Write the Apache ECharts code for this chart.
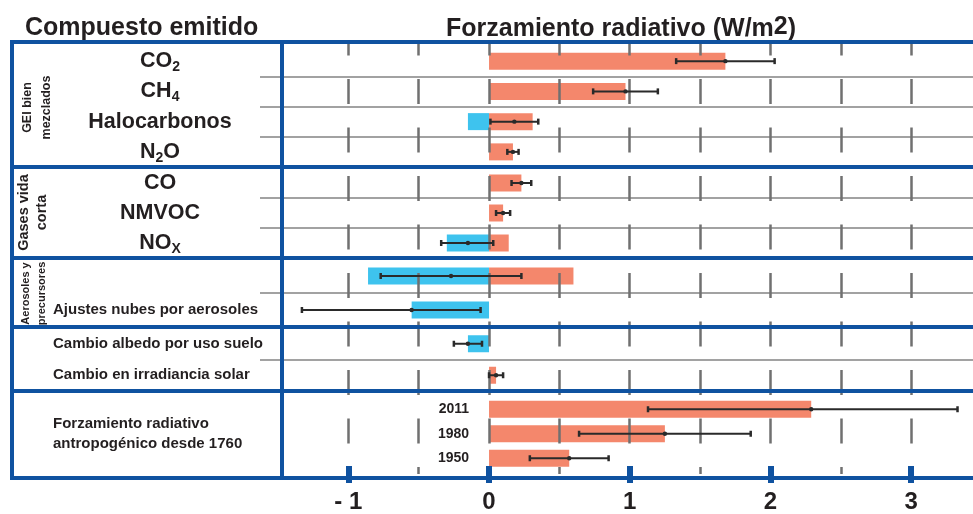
<!DOCTYPE html>
<html><head><meta charset="utf-8">
<script src="https://cdn.jsdelivr.net/npm/echarts@6/dist/echarts.min.js"></script>
<style>html,body{margin:0;padding:0;background:#fff}#c{width:973px;height:514px}</style>
</head><body><div id="c"></div>
<script>
// ---- data ----
const categories = ['CO2','CH4','Halocarbonos','N2O','CO','NMVOC','NOx','Aerosoles y precursores',
  'Ajustes nubes por aerosoles','Cambio albedo por uso suelo','Cambio en irradiancia solar','FR 2011','FR 1980','FR 1950'];
const rowLabels = ['CO_2','CH_4','Halocarbonos','N_2O','CO','NMVOC','NO_X','','Ajustes nubes por aerosoles',
  'Cambio albedo por uso suelo','Cambio en irradiancia solar','','Forzamiento radiativo\nantropogénico desde 1760',''];
const yearLabels = ['','','','','','','','','','','','2011','1980','1950'];
const groupSizes = [4,3,2,2,3];
const groupNames = ['GEI bien\nmezclados','Gases vida\ncorta','Aerosoles y\nprecursores','',''];
const positiveForcing = [1.68,0.97,0.31,0.17,0.23,0.10,0.14,0.60,0,0,0.05,2.29,1.25,0.57];
const negativeForcing = [0,0,-0.15,0,0,0,-0.30,-0.86,-0.55,-0.15,0,0,0,0];
const bestEstimate = [1.68,0.97,0.18,0.17,0.23,0.10,-0.15,-0.27,-0.55,-0.15,0.05,2.29,1.25,0.57];
const lowBound  = [1.33,0.74,0.01,0.13,0.16,0.05,-0.34,-0.77,-1.33,-0.25,0.00,1.13,0.64,0.29];
const highBound = [2.03,1.20,0.35,0.21,0.30,0.15,0.03,0.23,-0.06,-0.05,0.10,3.33,1.86,0.85];
const xTickLabels = [-1,0,1,2,3];

// ---- layout & style ----
const FRAME = '#0f52a0', ORANGE = '#f4876c', CYAN = '#3ec3ee', TXT = '#231f20', ROWLINE = '#a2a2a2';
const FONT = '"Liberation Sans", Arial, sans-serif';
const frameY = [42, 167, 258, 327, 391, 478];          // group separators (px)
const groupTop = [46, 168, 259, 328, 397];             // row band area per group (px)
const groupHeight = [121, 90, 68, 63, 73.5];
const groupLabelCenter = [true, true, false, false, false];
const groupRowLines = [true, true, true, true, false];
const plotLeft = 278, plotRight = 973, bandLeft = 260, panelLeft = 12, panelRight = 282;
const xMin = -1.5, xMax = 3.44;
const unit = (plotRight - plotLeft) / (xMax - xMin);
const bandXMin = xMin - (plotLeft - bandLeft) / unit;

const groupStarts = [];
let acc = 0;
groupSizes.forEach(s => { groupStarts.push(acc); acc += s; });

function subRich(t) {
  if (!t) return '';
  return t.split(/(_\w)/).filter(p => p).map(p => p[0] === '_' ? '{s|' + p.slice(1) + '}' : '{b|' + p + '}').join('');
}
const slice = (arr, g) => arr.slice(groupStarts[g], groupStarts[g] + groupSizes[g]);

const grids = [{ left: plotLeft, width: plotRight - plotLeft, top: frameY[0], height: frameY[5] - frameY[0] }];
const xAxes = [
  { gridIndex: 0, type: 'value', position: 'bottom', min: xMin, max: xMax, interval: 0.5, z: 3,
    axisLine: { show: false },
    axisTick: { show: false }, axisLabel: { show: false },
    splitLine: { show: true, showMinLine: false, showMaxLine: false,
      lineStyle: { color: '#707070', width: 2.5, type: [25, 23.5], dashOffset: 11.5 } } },
  { gridIndex: 0, type: 'value', position: 'bottom', min: xMin, max: xMax, interval: 0.5, offset: -8, z: 60,
    axisLine: { show: false },
    axisTick: { show: true, customValues: xTickLabels, length: 17, lineStyle: { color: FRAME, width: 6 } },
    axisLabel: { customValues: xTickLabels, margin: 24, fontSize: 24, fontWeight: 'bold', color: TXT, fontFamily: FONT,
      formatter: v => v < 0 ? '- ' + Math.abs(v) : String(v) },
    splitLine: { show: false } }
];
const yAxes = [{ gridIndex: 0, type: 'value', show: false }];
const series = [];

groupSizes.forEach((size, g) => {
  const gi = g + 1, xi = g + 2, yi = g + 1;
  grids.push({ left: bandLeft, width: plotRight - bandLeft, top: groupTop[g], height: groupHeight[g] });
  xAxes.push({ gridIndex: gi, type: 'value', min: bandXMin, max: xMax, show: false });
  const labels = slice(rowLabels, g);
  const centered = groupLabelCenter[g];
  yAxes.push({ gridIndex: gi, type: 'category', data: slice(categories, g), inverse: true, position: 'left',
    axisLine: { show: false }, axisTick: { show: false },
    axisLabel: centered
      ? { interval: 0, align: 'center', margin: bandLeft - 160, formatter: (v, i) => subRich(labels[i]),
          rich: { b: { fontSize: 21.5, fontWeight: 'bold', color: TXT, fontFamily: FONT },
                  s: { fontSize: 14, fontWeight: 'bold', color: TXT, fontFamily: FONT, padding: [12, 0, 0, 0] } } }
      : { interval: 0, align: 'left', margin: bandLeft - 53, fontSize: 15, fontWeight: 'bold', color: TXT,
          fontFamily: FONT, lineHeight: 20, formatter: (v, i) => labels[i] },
    splitLine: { show: groupRowLines[g], interval: i => i > 0 || size <= 2,
      lineStyle: { color: ROWLINE, width: 2 } } });
  const years = slice(yearLabels, g);
  const lo = slice(lowBound, g), hi = slice(highBound, g), be = slice(bestEstimate, g);
  series.push(
    { type: 'bar', name: 'positivo', xAxisIndex: xi, yAxisIndex: yi, barWidth: 17, barGap: '-100%',
      itemStyle: { color: ORANGE }, data: slice(positiveForcing, g).map(v => v === 0 ? '-' : v),
      label: { show: true, position: 'left', distance: 20, fontSize: 14, fontWeight: 'bold', color: TXT,
        fontFamily: FONT, formatter: p => years[p.dataIndex] } },
    { type: 'bar', name: 'negativo', xAxisIndex: xi, yAxisIndex: yi, barWidth: 17, barGap: '-100%',
      itemStyle: { color: CYAN }, data: slice(negativeForcing, g).map(v => v === 0 ? '-' : v) },
    { type: 'custom', name: 'incertidumbre', xAxisIndex: xi, yAxisIndex: yi, z: 6,
      data: lo.map((v, i) => [i, lo[i], hi[i], be[i]]),
      encode: { y: 0, x: [1, 2, 3] },
      renderItem: (params, api) => {
        const idx = api.value(0);
        const a = api.coord([api.value(1), idx]);
        const b = api.coord([api.value(2), idx]);
        const m = api.coord([api.value(3), idx]);
        const c = '#2a2a2a';
        return { type: 'group', children: [
          { type: 'line', shape: { x1: a[0], y1: a[1], x2: b[0], y2: b[1] }, style: { stroke: c, lineWidth: 2 } },
          { type: 'line', shape: { x1: a[0], y1: a[1] - 3, x2: a[0], y2: a[1] + 3 }, style: { stroke: c, lineWidth: 2.5 } },
          { type: 'line', shape: { x1: b[0], y1: b[1] - 3, x2: b[0], y2: b[1] + 3 }, style: { stroke: c, lineWidth: 2.5 } },
          { type: 'circle', shape: { cx: m[0], cy: m[1], r: 2.2 }, style: { fill: c } }
        ] };
      } }
  );
});

// frame lines and rotated group labels
const gfx = [];
frameY.forEach(y => gfx.push({ type: 'line', z: 50,
  shape: { x1: panelLeft - 2, y1: y, x2: plotRight, y2: y }, style: { stroke: FRAME, lineWidth: 4 } }));
[panelLeft, panelRight].forEach(x => gfx.push({ type: 'line', z: 50,
  shape: { x1: x, y1: frameY[0] - 2, x2: x, y2: frameY[5] + 2 }, style: { stroke: FRAME, lineWidth: 4 } }));
const groupLabelStyle = [
  { size: 12.5, lh: 19, x: 37, dy: 3 },
  { size: 14.5, lh: 18, x: 33, dy: 0 },
  { size: 11, lh: 16, x: 34, dy: 1 }
];
groupNames.forEach((name, g) => {
  if (!name) return;
  const s = groupLabelStyle[g];
  gfx.push({ type: 'text', x: s.x, y: (frameY[g] + frameY[g + 1]) / 2 + s.dy, rotation: Math.PI / 2, z: 60,
    style: { text: name, fontSize: s.size, fontWeight: 'bold', fill: TXT, fontFamily: FONT,
      lineHeight: s.lh, align: 'center', verticalAlign: 'middle' } });
});

const chart = echarts.init(document.getElementById('c'));
chart.setOption({
  animation: false,
  textStyle: { fontFamily: FONT },
  title: [
    { text: 'Compuesto emitido', left: 20, top: 11,
      textStyle: { fontSize: 25, fontWeight: 'bold', color: TXT, fontFamily: FONT } },
    { text: '{t|Forzamiento radiativo (W/m}{p|2}{t|)}', left: 441, top: 10,
      textStyle: { rich: {
        t: { fontSize: 25, fontWeight: 'bold', color: TXT, fontFamily: FONT },
        p: { fontSize: 25, fontWeight: 'bold', color: TXT, fontFamily: FONT, padding: [0, 0, 3, 0] } } } }
  ],
  grid: grids, xAxis: xAxes, yAxis: yAxes, series: series, graphic: gfx
});
</script></body></html>
